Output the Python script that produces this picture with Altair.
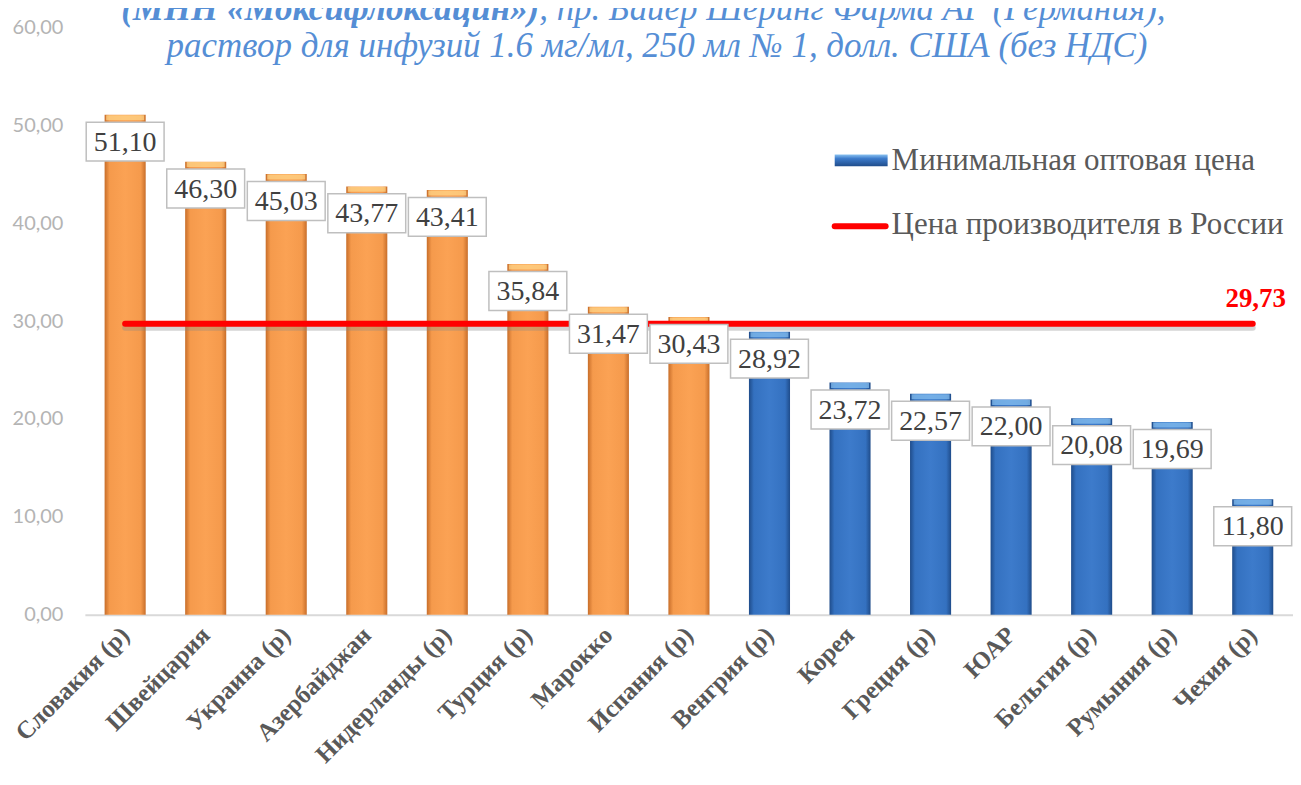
import altair as alt
import pandas as pd

countries = ["Словакия (р)", "Швейцария", "Украина (р)", "Азербайджан", "Нидерланды (р)",
             "Турция (р)", "Марокко", "Испания (р)", "Венгрия (р)", "Корея", "Греция (р)",
             "ЮАР", "Бельгия (р)", "Румыния (р)", "Чехия (р)"]
values = [51.10, 46.30, 45.03, 43.77, 43.41, 35.84, 31.47, 30.43, 28.92, 23.72, 22.57,
          22.00, 20.08, 19.69, 11.80]
russia_price = 29.73
y_ticks = [0, 10, 20, 30, 40, 50, 60]

title_line1_bold = "(МНН «Моксифлоксацин»)"
title_line1_rest = ", пр. Байер Шеринг Фарма АГ (Германия),"
title_line2 = "раствор для инфузий 1.6 мг/мл, 250 мл № 1, долл. США (без НДС)"
legend_bar = "Минимальная оптовая цена"
legend_line = "Цена производителя в России"

df = pd.DataFrame({"country": countries, "v": values, "ru": [russia_price] * len(countries)})
df["label"] = df["v"].map(lambda x: f"{x:.2f}".replace(".", ","))
df["group"] = ["above" if v > russia_price else "below" for v in values]

W, H = 1210, 588
SERIF = "Liberation Serif"

xenc = alt.X("country:N", sort=countries,
             scale=alt.Scale(paddingInner=0.49, paddingOuter=0.245),
             axis=alt.Axis(title=None, labelAngle=-45, labelAlign="right", labelBaseline="middle",
                           labelFont=SERIF, labelFontWeight="bold", labelFontSize=25,
                           labelColor="#595959", ticks=False, domainColor="#D9D9D9",
                           domainWidth=2, labelPadding=16, labelLimit=400))
yscale = alt.Scale(domain=[0, 60], nice=False)
yenc = alt.Y("v:Q", scale=yscale,
             axis=alt.Axis(title=None, values=y_ticks, grid=False, domain=False, ticks=False,
                           labelExpr="replace(format(datum.value, '.2f'), '.', ',')",
                           labelFont="Lato", labelFontSize=20, labelColor="#B4B4B4",
                           labelPadding=22))

orange_grad = alt.Gradient(gradient="linear", x1=0, x2=1, y1=0, y2=0, stops=[
    alt.GradientStop(offset=0, color="#C86E2A"),
    alt.GradientStop(offset=0.12, color="#F59A4C"),
    alt.GradientStop(offset=0.5, color="#FBA254"),
    alt.GradientStop(offset=0.88, color="#F59A4C"),
    alt.GradientStop(offset=1, color="#C86E2A")])
blue_grad = alt.Gradient(gradient="linear", x1=0, x2=1, y1=0, y2=0, stops=[
    alt.GradientStop(offset=0, color="#1F4C8A"),
    alt.GradientStop(offset=0.12, color="#3471C0"),
    alt.GradientStop(offset=0.5, color="#3D7BCB"),
    alt.GradientStop(offset=0.88, color="#3471C0"),
    alt.GradientStop(offset=1, color="#1F4C8A")])

base = alt.Chart(df)

bars_o = base.transform_filter("datum.group == 'above'").mark_bar(color=orange_grad).encode(x=xenc, y=yenc)
bars_b = base.transform_filter("datum.group == 'below'").mark_bar(color=blue_grad).encode(x=xenc, y=yenc)
cap_o = base.transform_filter("datum.group == 'above'").mark_tick(
    color="#FFD98C", thickness=5, size=38, yOffset=3).encode(x=xenc, y="v:Q")
cap_b = base.transform_filter("datum.group == 'below'").mark_tick(
    color="#8CC4F2", thickness=5, size=38, yOffset=3).encode(x=xenc, y="v:Q")

boxes = base.mark_point(shape="M-1,-0.5L1,-0.5L1,0.5L-1,0.5Z", size=78 * 78, filled=True,
                        fill="white", stroke="#BFBFBF", strokeWidth=1.5, opacity=1,
                        yOffset=27).encode(x=xenc, y="v:Q")
labels = base.mark_text(font=SERIF, fontSize=28, color="#404040", baseline="middle",
                        yOffset=28).encode(x=xenc, y="v:Q", text="label:N")

shadow = base.mark_line(color="#888888", opacity=0.35, strokeWidth=6, yOffset=4,
                        strokeCap="round").encode(x=xenc, y=alt.Y("ru:Q", scale=yscale))
line = base.mark_line(color="#FF0000", strokeWidth=6, strokeCap="round").encode(
    x=xenc, y=alt.Y("ru:Q", scale=yscale))
ru_label = base.transform_filter(alt.datum.country == countries[-1]).transform_calculate(
    t="replace(format(datum.ru, '.2f'), '.', ',')").mark_text(
    font=SERIF, fontSize=27, fontWeight="bold", color="#FF0000", dx=3, dy=-25,
    baseline="middle").encode(x=xenc, y=alt.Y("ru:Q", scale=yscale), text="t:N")

# legend (hand-built)
leg_df = pd.DataFrame({"a": [0]})
leg = alt.Chart(leg_df)
leg_rect = leg.mark_rect(color=alt.Gradient(gradient="linear", x1=0, x2=0, y1=0, y2=1, stops=[
    alt.GradientStop(offset=0, color="#8CC4F2"), alt.GradientStop(offset=0.35, color="#3D7BCB"),
    alt.GradientStop(offset=1, color="#1F4C8A")])).encode(
    x=alt.value(751), x2=alt.value(804), y=alt.value(127), y2=alt.value(139))
leg_t1 = leg.mark_text(font=SERIF, fontSize=31, color="#595959", align="left", baseline="middle").encode(
    x=alt.value(808), y=alt.value(134), text=alt.value(legend_bar))
leg_line = leg.mark_rule(color="#FF0000", strokeWidth=6, strokeCap="round").encode(
    x=alt.value(751), x2=alt.value(802), y=alt.value(199))
leg_t2 = leg.mark_text(font=SERIF, fontSize=31, color="#595959", align="left", baseline="middle").encode(
    x=alt.value(808), y=alt.value(198), text=alt.value(legend_line))

# title (hand-built, partially cut off at top as in the reference)
TF = 35
t1a = leg.mark_text(font=SERIF, fontSize=TF, fontStyle="italic", fontWeight="bold", color="#558ED5",
                    align="right", baseline="middle").encode(
    x=alt.value(455), y=alt.value(-19), text=alt.value(title_line1_bold))
t1b = leg.mark_text(font=SERIF, fontSize=TF, fontStyle="italic", color="#558ED5",
                    align="left", baseline="middle").encode(
    x=alt.value(455), y=alt.value(-19), text=alt.value(title_line1_rest))
t2 = leg.mark_text(font=SERIF, fontSize=TF, fontStyle="italic", color="#558ED5",
                   align="center", baseline="middle").encode(
    x=alt.value(573), y=alt.value(18), text=alt.value(title_line2))

chart = alt.layer(bars_o, bars_b, cap_o, cap_b, shadow, line, boxes, labels, ru_label,
                  leg_rect, leg_t1, leg_line, leg_t2, t1a, t1b, t2).properties(
    width=W, height=H,
    autosize=alt.AutoSizeParams(type="none"),
    padding={"left": 77, "top": 19, "right": 0, "bottom": 170},
    background="white",
).configure_view(stroke=None)

chart.save("out.html", embed_options={"renderer": "svg", "actions": False})
